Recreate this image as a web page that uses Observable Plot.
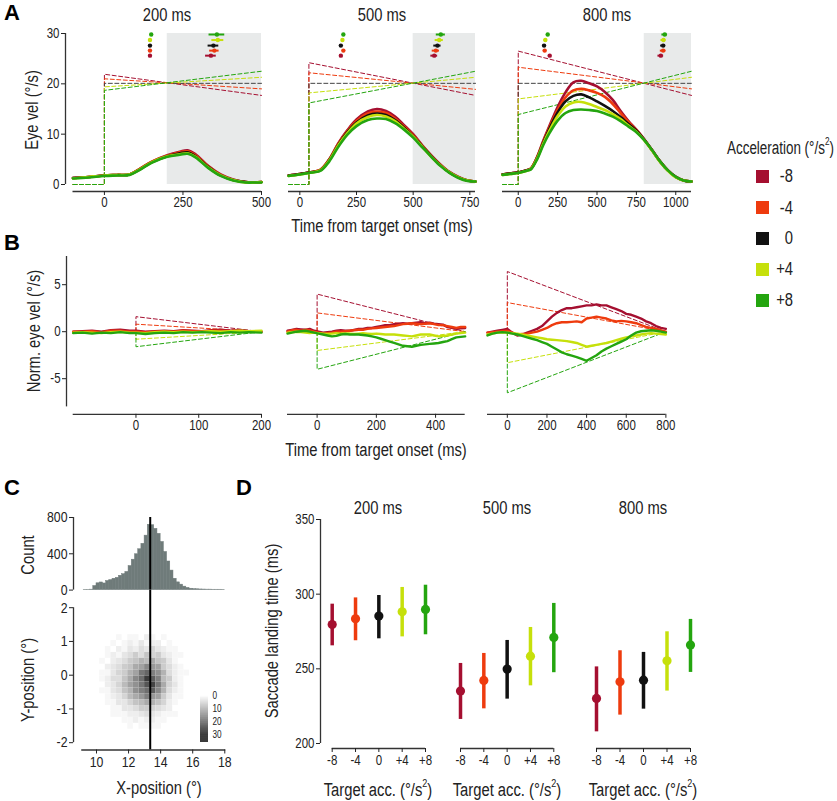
<!DOCTYPE html>
<html><head><meta charset="utf-8">
<script src="https://cdn.jsdelivr.net/npm/d3@7"></script>
<script src="https://cdn.jsdelivr.net/npm/@observablehq/plot@0.6"></script>
<style>
body{margin:0;background:#fff;}
#root{position:relative;width:837px;height:801px;overflow:hidden;font-family:"Liberation Sans",Arial,sans-serif;color:#222;background:#fff;}
.t{position:absolute;white-space:nowrap;font-size:18px;line-height:1;}
.ctr{transform:translate(-50%,-50%) scaleX(0.82);}
.rot{transform:translate(-50%,-50%) rotate(-90deg) scaleX(0.82);}
.lft{transform-origin:left center;width:max-content;}
.rgt{transform-origin:right center;transform:translate(-100%,-50%) scaleX(0.82);}
.letter{font-weight:bold;font-size:22px;color:#000;transform:translate(-50%,-50%);}
sup{font-size:11px;vertical-align:top;position:relative;top:-3px;}
</style></head><body><div id="root"></div><script>
const FONT = '"Liberation Sans",Arial,sans-serif';

// ---------- shared categories ----------
const accValues = [-8, -4, 0, 4, 8];
const accLabels = ["-8", "-4", "0", "+4", "+8"];
const accColors = ["#a50f30", "#ee3b0e", "#111111", "#c6e00b", "#24a50f"];
const dashColors = ["#a50f30", "#ee3b0e", "#444444", "#c6e00b", "#24a50f"];
const durationLabels = ["200 ms", "500 ms", "800 ms"];

// ---------- Panel A: eye velocity ----------
const aXDomains = [[-100, 500], [-50, 775], [-100, 1100]];
const aXTicks = [[0, 250, 500], [0, 250, 500, 750], [0, 250, 500, 750, 1000]];
const aYTicks = [0, 10, 20, 30];
const aStepTimes = [0, 40, 0];
const aShadeStart = [200, 500, 800];
const aTime200 = [-100, -50, 0, 40, 80, 110, 150, 200, 240, 265, 290, 330, 370, 410, 450, 480, 500];
const aVel200 = [
  [1.3, 1.5, 1.8, 1.9, 2.0, 3.0, 4.5, 5.8, 6.5, 6.8, 6.0, 3.7, 2.0, 1.0, 0.5, 0.4, 0.5],
  [1.3, 1.5, 1.8, 1.9, 2.0, 3.0, 4.5, 5.7, 6.4, 6.6, 5.8, 3.6, 1.9, 0.9, 0.5, 0.4, 0.5],
  [1.3, 1.5, 1.8, 1.9, 2.0, 2.9, 4.4, 5.6, 6.2, 6.4, 5.6, 3.5, 1.8, 0.9, 0.5, 0.4, 0.5],
  [1.2, 1.5, 1.8, 1.9, 2.0, 2.9, 4.4, 5.6, 6.0, 6.2, 5.5, 3.4, 1.8, 0.9, 0.4, 0.4, 0.5],
  [1.2, 1.4, 1.7, 1.8, 1.9, 2.8, 4.3, 5.5, 5.9, 6.1, 5.4, 3.3, 1.7, 0.8, 0.4, 0.4, 0.4]
];
const aTime500 = [-50, 0, 40, 90, 130, 170, 210, 250, 300, 340, 380, 420, 460, 500, 540, 580, 620, 660, 700, 740, 775];
const aVel500 = [
  [1.8, 2.1, 2.4, 2.9, 5.0, 8.2, 10.8, 12.9, 14.5, 15.0, 14.6, 13.5, 11.8, 10.0, 7.8, 5.8, 4.0, 2.5, 1.5, 0.8, 0.6],
  [1.8, 2.1, 2.4, 2.9, 5.0, 8.1, 10.6, 12.6, 14.1, 14.5, 14.2, 13.1, 11.5, 9.8, 7.7, 5.7, 3.9, 2.4, 1.4, 0.8, 0.6],
  [1.8, 2.1, 2.4, 2.8, 4.9, 7.9, 10.4, 12.3, 13.7, 14.1, 13.8, 12.8, 11.3, 9.6, 7.6, 5.6, 3.8, 2.4, 1.4, 0.8, 0.6],
  [1.7, 2.0, 2.3, 2.8, 4.8, 7.8, 10.2, 12.1, 13.4, 13.8, 13.5, 12.6, 11.1, 9.5, 7.5, 5.5, 3.8, 2.4, 1.4, 0.8, 0.6],
  [1.7, 2.0, 2.3, 2.7, 4.6, 7.5, 9.9, 11.6, 12.8, 13.1, 13.0, 12.2, 10.9, 9.3, 7.4, 5.5, 3.7, 2.3, 1.3, 0.7, 0.6]
];
const aTime800 = [-100, -50, 0, 50, 80, 120, 160, 200, 250, 300, 350, 400, 450, 500, 550, 600, 650, 700, 750, 800, 850, 900, 950, 1000, 1050, 1100];
const aVel800 = [
  [2.0, 2.2, 2.4, 2.8, 3.2, 5.5, 8.8, 11.8, 15.4, 18.3, 20.3, 20.6, 20.1, 19.5, 18.4, 16.8, 14.6, 12.6, 10.9, 9.0, 6.8, 4.6, 2.8, 1.5, 0.8, 0.6],
  [2.0, 2.2, 2.4, 2.8, 3.2, 5.4, 8.6, 11.5, 14.8, 17.3, 18.7, 19.0, 18.7, 18.2, 17.4, 16.0, 14.2, 12.4, 10.8, 8.9, 6.8, 4.6, 2.8, 1.5, 0.8, 0.6],
  [2.0, 2.2, 2.4, 2.8, 3.1, 5.3, 8.4, 11.2, 14.3, 16.5, 17.6, 17.9, 17.3, 16.5, 15.6, 14.6, 13.4, 12.0, 10.7, 8.9, 6.8, 4.6, 2.8, 1.5, 0.8, 0.6],
  [1.9, 2.1, 2.3, 2.7, 3.1, 5.2, 8.2, 10.8, 13.6, 15.5, 16.3, 16.4, 16.0, 15.4, 14.8, 14.0, 13.0, 11.7, 10.5, 8.8, 6.7, 4.5, 2.7, 1.4, 0.8, 0.6],
  [1.9, 2.1, 2.3, 2.7, 3.0, 5.0, 7.9, 10.3, 12.7, 14.2, 14.8, 14.9, 14.8, 14.6, 14.1, 13.5, 12.6, 11.5, 10.4, 8.8, 6.8, 4.6, 2.8, 1.5, 0.8, 0.6]
];
const aTargetStart = [[21.9, 21.0, 20.1, 19.4, 18.7], [24.2, 22.2, 20.1, 18.2, 16.2], [26.5, 23.3, 20.1, 17.0, 13.9]];
const aTargetEnd = [[17.7, 19.0, 20.1, 21.3, 22.5], [17.7, 18.9, 20.1, 21.3, 22.5], [17.7, 19.0, 20.1, 21.3, 22.5]];
const markerRows = [25.6, 26.6, 27.6, 28.7, 29.8];
const aSaccEarly = [[145, 145, 145, 145, 149], [181, 192, 181, 188, 192], [200, 168, 164, 172, 187]];
const aSaccEarlyErr = [[3, 3, 3, 3, 3], [4, 4, 4, 4, 4], [9, 9, 9, 9, 7]];
const aSaccLate = [[339, 350, 347, 361, 358], [593, 600, 607, 615, 622], [905, 920, 920, 922, 930]];
const aSaccLateErr = [[17, 15, 17, 19, 25], [15, 16, 16, 18, 20], [18, 18, 16, 16, 18]];

// ---------- Panel B: normalised eye velocity ----------
const bXDomains = [[-100, 200], [-100, 500], [-100, 800]];
const bXTicks = [[0, 100, 200], [0, 200, 400], [0, 200, 400, 600, 800]];
const bYTicks = [-5, 0, 5];
const bTargetStart = [[1.6, 0.8, 0, -0.8, -1.6], [4.0, 2.0, 0, -2.0, -4.0], [6.4, 3.1, 0, -3.3, -6.5]];
const bTime200 = [-100, -85, -70, -55, -40, -25, -10, 0, 15, 30, 45, 60, 75, 90, 105, 120, 135, 150, 165, 180, 200];
const bVel200 = [
  [0.0, 0.05, 0.1, 0.0, 0.15, 0.2, 0.1, 0.1, 0.0, 0.05, 0.1, 0.05, 0.15, 0.1, 0.05, 0.15, 0.2, 0.1, 0.15, 0.05, 0.0],
  [0.0, 0.0, 0.05, -0.05, 0.1, 0.1, 0.0, 0.0, -0.05, 0.0, 0.05, 0.0, 0.1, 0.05, 0.0, 0.1, 0.1, 0.05, 0.1, 0.0, 0.0],
  null,
  [-0.1, -0.05, -0.1, -0.15, -0.05, 0.0, -0.1, -0.1, -0.15, -0.05, 0.0, -0.05, 0.0, -0.05, 0.0, 0.05, 0.0, 0.05, 0.1, 0.05, 0.1],
  [-0.15, -0.1, -0.2, -0.1, -0.15, -0.05, -0.15, -0.15, -0.25, -0.15, -0.1, -0.15, -0.05, -0.1, -0.05, -0.1, -0.15, -0.05, -0.1, -0.05, -0.1]
];
const bTime500 = [-100, -85, -70, -55, -40, -25, -10, 5, 20, 35, 50, 65, 80, 95, 110, 125, 140, 155, 170, 185, 200, 215, 230, 245, 260, 275, 290, 305, 320, 335, 350, 365, 380, 395, 410, 425, 440, 455, 470, 485, 500];
const bVel500 = [
  [0.1, 0.2, 0.3, 0.25, 0.2, 0.3, 0.1, 0.0, -0.1, -0.05, 0.0, 0.1, 0.15, 0.1, 0.1, 0.2, 0.3, 0.3, 0.4, 0.4, 0.5, 0.6, 0.7, 0.7, 0.8, 0.85, 0.9, 0.85, 0.9, 0.95, 1.0, 0.9, 0.95, 0.85, 0.8, 0.75, 0.5, 0.4, 0.3, 0.35, 0.4],
  [0.0, 0.15, 0.2, 0.1, 0.2, 0.15, 0.0, -0.1, -0.2, -0.15, -0.1, 0.0, 0.0, 0.05, 0.1, 0.15, 0.2, 0.2, 0.3, 0.35, 0.4, 0.45, 0.5, 0.55, 0.6, 0.7, 0.8, 0.85, 0.9, 0.85, 0.8, 0.85, 0.9, 0.8, 0.7, 0.7, 0.6, 0.5, 0.4, 0.5, 0.5],
  null,
  [-0.1, -0.05, 0.0, -0.05, -0.1, -0.15, -0.1, -0.15, -0.2, -0.25, -0.2, -0.15, -0.2, -0.2, -0.2, -0.25, -0.2, -0.15, -0.2, -0.25, -0.2, -0.25, -0.3, -0.3, -0.3, -0.35, -0.4, -0.45, -0.5, -0.4, -0.3, -0.3, -0.3, -0.4, -0.5, -0.45, -0.4, -0.3, -0.2, -0.15, -0.1],
  [-0.2, -0.1, 0.0, 0.05, 0.1, 0.0, -0.1, -0.2, -0.3, -0.4, -0.5, -0.45, -0.3, -0.25, -0.3, -0.3, -0.3, -0.35, -0.4, -0.5, -0.6, -0.75, -0.9, -1.05, -1.2, -1.35, -1.5, -1.55, -1.6, -1.5, -1.4, -1.35, -1.3, -1.25, -1.2, -1.1, -1.0, -0.8, -0.6, -0.55, -0.5]
];
const bTime800 = [-100, -75, -50, -25, 0, 25, 50, 75, 100, 125, 150, 175, 200, 225, 250, 275, 300, 325, 350, 375, 400, 425, 450, 475, 500, 525, 550, 575, 600, 625, 650, 675, 700, 725, 750, 775, 800];
const bVel800 = [
  [-0.1, 0.0, 0.1, 0.2, 0.3, -0.1, -0.4, -0.3, -0.1, 0.1, 0.3, 0.6, 1.1, 1.6, 2.0, 2.3, 2.5, 2.5, 2.6, 2.7, 2.8, 2.8, 2.9, 2.8, 2.8, 2.6, 2.4, 2.2, 1.9, 1.8, 1.6, 1.4, 1.1, 0.9, 0.6, 0.4, 0.3],
  [-0.1, -0.05, 0.0, 0.05, 0.1, -0.1, -0.3, -0.25, -0.2, -0.1, 0.0, 0.2, 0.4, 0.7, 0.9, 1.0, 1.0, 1.05, 1.1, 1.0, 1.4, 1.5, 1.6, 1.5, 1.4, 1.2, 1.1, 1.15, 1.1, 1.0, 0.9, 0.7, 0.5, 0.4, 0.3, 0.15, 0.0],
  null,
  [-0.3, -0.2, -0.1, -0.1, -0.1, -0.15, -0.2, -0.3, -0.4, -0.5, -0.6, -0.7, -0.8, -0.85, -0.9, -0.95, -1.0, -1.1, -1.2, -1.4, -1.6, -1.5, -1.4, -1.3, -1.2, -1.05, -0.9, -0.75, -0.6, -0.5, -0.4, -0.3, -0.2, -0.15, -0.2, -0.25, -0.3],
  [-0.4, -0.2, -0.1, -0.05, -0.1, -0.2, -0.3, -0.45, -0.6, -0.75, -0.9, -1.1, -1.3, -1.6, -1.9, -2.2, -2.4, -2.55, -2.7, -2.9, -3.1, -2.8, -2.5, -2.1, -1.8, -1.55, -1.3, -1.05, -0.8, -0.4, -0.1, 0.05, 0.1, 0.15, 0.1, 0.0, -0.1]
];

// ---------- Panel C: landing positions ----------
const histStart = 9.2, histBinWidth = 0.2;
const histCounts = [3, 3, 5, 45, 75, 84, 73, 100, 110, 125, 135, 158, 175, 200, 265, 335, 395, 450, 510, 600, 720, 715, 675, 620, 530, 420, 315, 215, 125, 85, 60, 38, 24, 15, 11, 9, 7, 6, 5, 5, 4, 4, 4, 3];
const histTicks = [0, 400, 800];
const meanX = 13.35;
const heatXStart = 10.2, heatXWidth = 0.35, heatYTop = 1.2, heatYHeight = 0.175;
const heatCounts = [
  [0, 0, 0, 1, 0, 1, 1, 0, 2, 1, 0, 1, 0, 0, 0, 0, 0],
  [0, 0, 1, 0, 1, 2, 1, 3, 1, 2, 2, 0, 1, 0, 0, 0, 0],
  [0, 1, 0, 2, 1, 3, 2, 4, 3, 5, 3, 2, 1, 1, 0, 0, 0],
  [0, 1, 2, 1, 3, 4, 6, 4, 7, 5, 6, 3, 2, 1, 1, 0, 0],
  [1, 0, 2, 3, 4, 6, 7, 9, 8, 10, 7, 6, 3, 1, 0, 0, 0],
  [0, 2, 3, 4, 6, 7, 10, 11, 14, 12, 11, 6, 4, 2, 1, 0, 0],
  [1, 1, 3, 5, 6, 9, 11, 16, 18, 15, 13, 9, 4, 2, 1, 1, 0],
  [1, 2, 4, 4, 7, 10, 14, 17, 23, 19, 15, 8, 6, 2, 1, 0, 0],
  [0, 2, 3, 5, 8, 11, 13, 16, 20, 22, 16, 10, 5, 3, 1, 0, 0],
  [1, 1, 3, 4, 7, 9, 13, 15, 17, 19, 14, 9, 4, 2, 1, 0, 0],
  [0, 1, 2, 3, 5, 8, 10, 12, 15, 12, 11, 6, 3, 1, 1, 0, 0],
  [0, 1, 1, 3, 3, 5, 7, 8, 10, 9, 7, 5, 2, 1, 0, 0, 0],
  [0, 0, 1, 1, 3, 3, 4, 6, 6, 5, 4, 3, 2, 0, 0, 0, 0],
  [0, 0, 1, 1, 1, 2, 2, 3, 4, 3, 2, 1, 1, 1, 0, 0, 0],
  [0, 0, 0, 0, 1, 1, 2, 1, 2, 2, 1, 1, 0, 0, 0, 0, 0],
  [0, 0, 0, 0, 0, 1, 0, 1, 1, 1, 1, 0, 0, 0, 0, 0, 0]
];
const heatXTicks = [10, 12, 14, 16, 18];
const heatYTicks = [-2, -1, 0, 1, 2];
const heatLegendTicks = [0, 10, 20, 30];

// ---------- Panel D: saccade landing time ----------
const dMean = [[279.7, 283.5, 285.3, 288.2, 289.8], [235.1, 242.2, 249.8, 258.5, 271.0], [230.2, 241.3, 242.4, 255.4, 265.9]];
const dLow = [[265.4, 268.8, 270.1, 271.4, 272.8], [216.1, 223.2, 229.7, 238.6, 247.4], [207.8, 219.0, 223.0, 235.1, 247.6]];
const dHigh = [[293.3, 297.5, 299.1, 304.5, 306.0], [253.6, 260.3, 269.0, 277.7, 293.8], [251.3, 262.1, 261.0, 274.8, 283.1]];
const dYTicks = [200, 250, 300, 350];

// ================= drawing =================
const root = document.getElementById("root");
const AX = "#333";
const fmt = d => String(d);

// narrow the svg text to Arial-Narrow proportions (svg must be in the DOM)
function narrow(svg) {
  svg.querySelectorAll("text").forEach(t => {
    const L = t.getComputedTextLength();
    if (L > 0) {
      t.setAttribute("textLength", (L * 0.82).toFixed(2));
      t.setAttribute("lengthAdjust", "spacingAndGlyphs");
    }
  });
}

function panel(o) {
  const kx = (o.xd[1] - o.xd[0]) / (o.xp[1] - o.xp[0]);
  const ky = (o.yd[1] - o.yd[0]) / (o.yp[1] - o.yp[0]);
  const fL = o.yAxisAt != null ? Math.min(o.yAxisAt, o.xp[0]) : o.xp[0];
  const fR = o.xp[1];
  const fB = o.xAxisAt != null ? Math.max(o.xAxisAt, o.yp[0]) : o.yp[0];
  const fT = o.top != null ? o.top : o.yp[1];
  const xe = [o.xd[0] + (fL - o.xp[0]) * kx, o.xd[0] + (fR - o.xp[0]) * kx];
  const ye = [o.yd[0] + (fB - o.yp[0]) * ky, o.yd[0] + (fT - o.yp[0]) * ky];
  const ml = o.ml ?? 40, mr = o.mr ?? 10, mt = o.mt ?? 10, mb = o.mb ?? 30;
  const svg = Plot.plot({
    width: ml + (fR - fL) + mr, height: mt + (fB - fT) + mb,
    marginLeft: ml, marginRight: mr, marginTop: mt, marginBottom: mb,
    x: {domain: xe, axis: null}, y: {domain: ye, axis: null},
    color: o.color,
    style: {background: "transparent", fontFamily: FONT, fontSize: (o.fontSize || 14) + "px", color: "#222", overflow: "visible"},
    marks: o.marks(xe, ye)
  });
  svg.style.position = "absolute";
  svg.style.left = (fL - ml) + "px";
  svg.style.top = (fT - mt) + "px";
  root.appendChild(svg);
  narrow(svg);
}

function text(str, x, y, cls, size) {
  const d = document.createElement("div");
  d.className = "t " + cls;
  d.style.left = x + "px"; d.style.top = y + "px";
  if (size) d.style.fontSize = size + "px";
  d.innerHTML = str;
  root.appendChild(d);
  return d;
}

// ---- Panel A ----
const aXPage = [[72.5, 261], [288, 475], [502, 691]];
const aTimes = [aTime200, aTime500, aTime800];
const aVels = [aVel200, aVel500, aVel800];
for (let p = 0; p < 3; p++) {
  const xd = aXDomains[p];
  panel({
    xd, xp: aXPage[p], yd: [0, 30], yp: [184, 33],
    yAxisAt: p === 0 ? 65 : null, xAxisAt: 191,
    ml: p === 0 ? 40 : 6, mr: 8, mt: 6, mb: 28,
    marks: (xe, ye) => {
      const m = [];
      m.push(Plot.rect([{a: aShadeStart[p], b: xd[1]}], {x1: "a", x2: "b", y1: () => 0, y2: () => 30, fill: "#e8eaea"}));
      for (let i = 0; i < 5; i++) {
        const pts = [
          {t: xd[0], v: 0}, {t: aStepTimes[p], v: 0},
          {t: aStepTimes[p], v: aTargetStart[p][i]}, {t: xd[1], v: aTargetEnd[p][i]}
        ];
        m.push(Plot.line(pts, {x: "t", y: "v", stroke: dashColors[i], strokeWidth: 1, strokeDasharray: "4,2.5"}));
      }
      for (let i = 0; i < 5; i++) {
        const pts = aTimes[p].map((t, j) => ({t, v: aVels[p][i][j]}));
        m.push(Plot.line(pts, {x: "t", y: "v", stroke: accColors[i], strokeWidth: 2.6, curve: "catmull-rom"}));
      }
      for (let i = 0; i < 5; i++) {
        const mk = [
          {t: aSaccEarly[p][i], e: aSaccEarlyErr[p][i], y: markerRows[i]},
          {t: aSaccLate[p][i], e: aSaccLateErr[p][i], y: markerRows[i]}
        ];
        m.push(Plot.ruleY(mk, {y: "y", x1: d => d.t - d.e, x2: d => d.t + d.e, stroke: accColors[i], strokeWidth: 2}));
        m.push(Plot.dot(mk, {x: "t", y: "y", r: 2.2, fill: accColors[i]}));
      }
      m.push(Plot.ruleY([ye[0]], {x1: xd[0], x2: xd[1], stroke: AX, strokeWidth: 1.3}));
      m.push(Plot.axisX({ticks: aXTicks[p], tickFormat: fmt, tickSize: 4, tickPadding: 2, label: null, anchor: "bottom"}));
      if (p === 0) {
        m.push(Plot.ruleX([xe[0]], {y1: 0, y2: 30, stroke: AX, strokeWidth: 1.3}));
        m.push(Plot.axisY({ticks: aYTicks, tickFormat: fmt, tickSize: 4, tickPadding: 2, label: null, anchor: "left"}));
      }
      return m;
    }
  });
}

// ---- Panel B ----
const bXPage = [[72.7, 261], [287.3, 465], [487.3, 665.7]];
const bTimes = [bTime200, bTime500, bTime800];
const bVels = [bVel200, bVel500, bVel800];
for (let p = 0; p < 3; p++) {
  const xd = bXDomains[p];
  panel({
    xd, xp: bXPage[p], yd: [-8, 8], yp: [405.9, 255.5],
    yAxisAt: p === 0 ? 66 : null, xAxisAt: 413.3,
    ml: p === 0 ? 40 : 6, mr: 10, mt: 6, mb: 28,
    marks: (xe, ye) => {
      const m = [];
      for (let i = 0; i < 5; i++) {
        if (i === 2) continue;
        const pts = [{t: 0, v: 0}, {t: 0, v: bTargetStart[p][i]}, {t: xd[1], v: 0}];
        m.push(Plot.line(pts, {x: "t", y: "v", stroke: dashColors[i], strokeWidth: 1, strokeDasharray: "4,2.5"}));
      }
      for (let i = 0; i < 5; i++) {
        if (!bVels[p][i]) continue;
        const pts = bTimes[p].map((t, j) => ({t, v: bVels[p][i][j]}));
        m.push(Plot.line(pts, {x: "t", y: "v", stroke: accColors[i], strokeWidth: 2.4}));
      }
      m.push(Plot.ruleY([ye[0]], {x1: xd[0], x2: xd[1], stroke: AX, strokeWidth: 1.3}));
      m.push(Plot.axisX({ticks: bXTicks[p], tickFormat: fmt, tickSize: 4, tickPadding: 2, label: null, anchor: "bottom"}));
      if (p === 0) {
        m.push(Plot.ruleX([xe[0]], {y1: -8, y2: 8, stroke: AX, strokeWidth: 1.3}));
        m.push(Plot.axisY({ticks: bYTicks, tickFormat: fmt, tickSize: 4, tickPadding: 2, label: null, anchor: "left"}));
      }
      return m;
    }
  });
}

// ---- Panel C ----
const heatColor = {type: "linear", domain: [0, 30], range: ["#ffffff", "#000000"], clamp: true};
panel({
  xd: [10, 18], xp: [95.7, 224], yd: [0, 800], yp: [589.3, 516.7], yAxisAt: 72.7,
  ml: 40, mr: 10, mt: 8, mb: 0, fontSize: 15,
  marks: (xe, ye) => [
    Plot.rect(histCounts.map((c, i) => ({x1: histStart + i * histBinWidth, x2: histStart + (i + 1) * histBinWidth, c})),
      {x1: "x1", x2: "x2", y1: () => 0, y2: "c", fill: "#6f7b7a", stroke: "#6f7b7a", strokeWidth: 0.5, inset: 0}),
    Plot.ruleX([meanX], {y1: 0, y2: 800, stroke: "#000", strokeWidth: 2}),
    Plot.ruleX([xe[0]], {y1: 0, y2: 800, stroke: AX, strokeWidth: 1.3}),
    Plot.axisY({ticks: histTicks, tickFormat: fmt, tickSize: 4, tickPadding: 2, label: null, anchor: "left"})
  ]
});
const heatCells = [];
heatCounts.forEach((row, r) => row.forEach((v, c) => {
  if (v > 0) heatCells.push({
    x1: heatXStart + c * heatXWidth, x2: heatXStart + (c + 1) * heatXWidth,
    y1: heatYTop - (r + 1) * heatYHeight, y2: heatYTop - r * heatYHeight, v
  });
}));
panel({
  xd: [10, 18], xp: [95.7, 224], yd: [-2, 2], yp: [741.7, 606.7], yAxisAt: 72.7, xAxisAt: 749, top: 589.5,
  ml: 40, mr: 10, mt: 0, mb: 28, color: heatColor, fontSize: 15,
  marks: (xe, ye) => [
    Plot.rect(heatCells, {x1: "x1", x2: "x2", y1: "y1", y2: "y2", fill: "v", inset: 0}),
    Plot.ruleX([meanX], {y1: ye[0], y2: ye[1], stroke: "#000", strokeWidth: 2}),
    Plot.ruleX([xe[0]], {y1: -2, y2: 2, stroke: AX, strokeWidth: 1.3}),
    Plot.ruleY([ye[0]], {x1: 9.08, x2: 18.06, stroke: AX, strokeWidth: 1.3}),
    Plot.axisY({ticks: heatYTicks, tickFormat: fmt, tickSize: 4, tickPadding: 2, label: null, anchor: "left"}),
    Plot.axisX({ticks: heatXTicks, tickFormat: fmt, tickSize: 4, tickPadding: 2, label: null, anchor: "bottom"})
  ]
});
// colour ramp legend
{
  const ramp = [];
  for (let v = 0; v < 36; v += 0.5) ramp.push(v);
  const svg = Plot.plot({
    width: 40, height: 57, marginLeft: 0, marginRight: 32, marginTop: 5, marginBottom: 5,
    x: {domain: [0, 1], axis: null}, y: {domain: [0, 36], reverse: true, axis: null},
    color: heatColor,
    style: {background: "transparent", fontFamily: FONT, fontSize: "10px", color: "#222", overflow: "visible"},
    marks: [
      Plot.rect(ramp, {x1: () => 0, x2: () => 1, y1: d => d, y2: d => d + 0.5, fill: d => d, inset: 0}),
      Plot.axisY({ticks: heatLegendTicks, tickFormat: fmt, tickSize: 0, tickPadding: 4, label: null, anchor: "right", textAnchor: "start"})
    ]
  });
  svg.style.position = "absolute"; svg.style.left = "200px"; svg.style.top = "690px";
  root.appendChild(svg);
  narrow(svg);
}

// ---- Panel D ----
const dXPage = [[331.7, 425], [460, 553.3], [596, 690]];
for (let p = 0; p < 3; p++) {
  panel({
    xd: [-8, 8], xp: dXPage[p], yd: [200, 350], yp: [743.3, 519.3],
    yAxisAt: p === 0 ? 320 : null, xAxisAt: 748.3,
    ml: p === 0 ? 40 : 8, mr: 10, mt: 6, mb: 30,
    marks: (xe, ye) => {
      const m = [];
      for (let i = 0; i < 5; i++) {
        const d = [{a: accValues[i], lo: dLow[p][i], hi: dHigh[p][i], mu: dMean[p][i]}];
        m.push(Plot.ruleX(d, {x: "a", y1: "lo", y2: "hi", stroke: accColors[i], strokeWidth: 3.5}));
        m.push(Plot.dot(d, {x: "a", y: "mu", r: 4.6, fill: accColors[i]}));
      }
      m.push(Plot.ruleY([ye[0]], {x1: -8, x2: 8, stroke: AX, strokeWidth: 1.3}));
      m.push(Plot.axisX({ticks: accValues, tickFormat: d => accLabels[accValues.indexOf(d)], tickSize: 4, tickPadding: 3, label: null, anchor: "bottom"}));
      if (p === 0) {
        m.push(Plot.ruleX([xe[0]], {y1: 200, y2: 350, stroke: AX, strokeWidth: 1.3}));
        m.push(Plot.axisY({ticks: dYTicks, tickFormat: fmt, tickSize: 4, tickPadding: 2, label: null, anchor: "left"}));
      }
      return m;
    }
  });
}

// ---- text ----
text("A", 12, 13, "letter");
text("B", 12, 243, "letter");
text("C", 12, 488, "letter");
text("D", 244, 488, "letter");
const aTitleX = [166.7, 381.7, 606.7];
durationLabels.forEach((s, i) => text(s, aTitleX[i], 15, "ctr"));
text("Eye vel (°/s)", 32, 110, "rot");
text("Time from target onset (ms)", 381.7, 226, "ctr");
text("Norm. eye vel (°/s)", 34, 331, "rot");
text("Time from target onset (ms)", 376, 450, "ctr");
text("Count", 28, 555, "rot");
text("Y-position (°)", 28, 680, "rot");
text("X-position (°)", 159, 788, "ctr");
text("Saccade landing time (ms)", 272, 631, "rot");
const dTitleX = [378.3, 506.7, 643];
durationLabels.forEach((s, i) => {
  text(s, dTitleX[i], 508, "ctr");
  text("Target acc. (°/s<sup>2</sup>)", dTitleX[i], 790, "ctr");
});
// legend
{
  const lt = text("Acceleration (°/s<sup>2</sup>)", 727, 148, "lft", 18);
  const w = lt.getBoundingClientRect().width;
  const s = w > 0 ? 107 / w : 0.82;
  lt.style.transform = `translate(0,-50%) scaleX(${s.toFixed(3)})`;
}
const legendY = [176, 207.5, 238, 269, 300];
accLabels.forEach((lab, i) => {
  const sw = document.createElement("div");
  Object.assign(sw.style, {position: "absolute", left: "756px", top: (legendY[i] - 6.5) + "px", width: "13px", height: "13px", background: accColors[i]});
  root.appendChild(sw);
  text(lab, 793, legendY[i], "rgt");
});
</script></body></html>
